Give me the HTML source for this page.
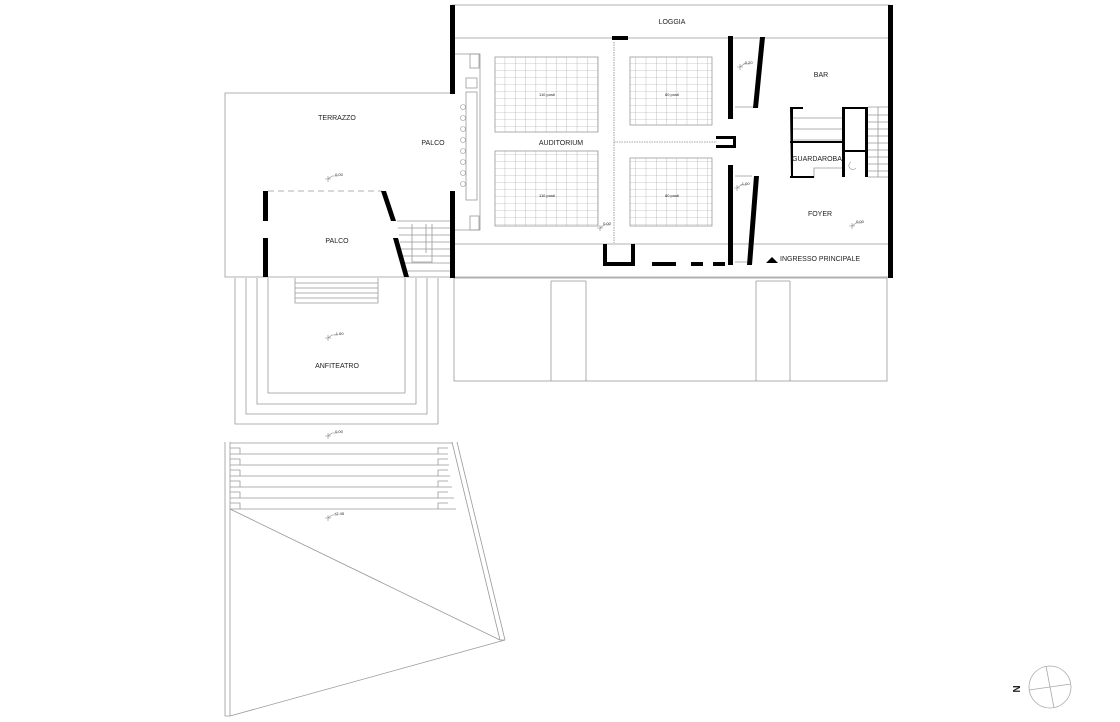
<!DOCTYPE html>
<html><head><meta charset="utf-8"><style>
html,body{margin:0;padding:0;background:#fff;width:1120px;height:722px;overflow:hidden}
svg{display:block}
text{font-family:"Liberation Sans",sans-serif;fill:#222}
</style></head><body>
<svg width="1120" height="722" viewBox="0 0 1120 722" xmlns="http://www.w3.org/2000/svg">
<defs>
<pattern id="g" width="10.3" height="7" patternUnits="userSpaceOnUse"><path d="M0 0H10.3M0 0V7" stroke="#9a9a9a" stroke-width="0.6" fill="none"/></pattern>
<pattern id="g2" width="10.25" height="7" patternUnits="userSpaceOnUse"><path d="M0 0H10.25M0 0V7" stroke="#9a9a9a" stroke-width="0.6" fill="none"/></pattern>
</defs>
<g fill="none" stroke="#999" stroke-width="0.8">
<!-- main building -->
<path d="M452 5H890M452 38H890M452 244H890M452 277H890"/>
<!-- annex -->
<rect x="454" y="278" width="433" height="103"/>
<path d="M551 281V381M586 281V381M756 281V381M790 281V381M551 281H586M756 281H790"/>
<!-- seat grids -->
<rect x="495" y="57" width="103" height="75" fill="url(#g)"/>
<rect x="495" y="151" width="103" height="75" fill="url(#g)"/>
<rect x="630" y="57" width="82" height="68" fill="url(#g2)"/>
<rect x="630" y="158" width="82" height="68" fill="url(#g2)"/>
<!-- stage left -->
<rect x="466" y="92" width="11" height="108"/>
<rect x="466" y="78" width="11" height="10"/>
<rect x="470" y="54" width="9" height="14"/>
<rect x="470" y="216" width="9" height="14"/>
<path d="M455 54H480V230H455"/>
<g stroke-width="0.6"><circle cx="463" cy="107" r="2.5"/><circle cx="463" cy="118" r="2.5"/><circle cx="463" cy="129" r="2.5"/><circle cx="463" cy="140" r="2.5"/><circle cx="463" cy="151" r="2.5"/><circle cx="463" cy="162" r="2.5"/><circle cx="463" cy="173" r="2.5"/><circle cx="463" cy="184" r="2.5"/></g>
<path d="M614 42V243M614 142H717" stroke-dasharray="1.5 1" stroke="#888"/>
<path d="M735 38H758M735 107H756M735 176H752M735 262H750"/>
<!-- guardaroba stairs -->
<path d="M792 118H843M792 129H843M792 140H843M868 107H890M868 177H890M814 177V168H843"/>
<path d="M868 115H890M868 122H890M868 129H890M868 136H890M868 143H890M868 150H890M868 157H890M868 164H890M868 171H890M878 107V177"/>
<path d="M851 162a4 4 0 1 0 5 6" stroke-width="0.6"/>
<!-- left terrazzo -->
<path d="M452 93H225V277H452"/>
<path d="M268 191H382" stroke-dasharray="6 4"/>
<path d="M397 221H452M398 228H452M399 235H452M400 242H452M401 249H452M402 256H452M403 263H452M405 271H452M412 224V262H432V224M426 224V253"/>
<!-- amphitheater -->
<path d="M235 278V424H438V278M246 278V414H427V278M257 278V404H416V278M268 278V393H405V278"/>
<path d="M295 278V303H378V278M295 283H378M295 288H378M295 293H378M295 298H378"/>
<!-- lower -->
<path d="M225 442V716H230V442"/>
<path d="M230 443H452M230 454H448M230 465H449M230 476H450M230 487H452M230 498H454M230 509H456"/>
<path d="M452 442L500 640M457 442L505 640M500 640L505 640"/>
<path d="M230 509L500 640M230 716L505 640"/>
<path d="M230 448H240V454M230 459H240V465M230 470H240V476M230 481H240V487M230 492H240V498M230 503H240V509"/>
<path d="M448 448H438V454M448 459H438V465M448 470H438V476M448 481H438V487M448 492H438V498M448 503H438V509"/>
<!-- level markers -->
<g stroke="#888" stroke-width="0.6">
<path d="M325 179h6M328 176v6M328 179l4-3h6"/>
<path d="M325 338h6M328 335v6M328 338l4-3h6"/>
<path d="M325 436h6M328 433v6M328 436l4-3h6"/>
<path d="M325 518h6M328 515v6M328 518l4-3h6"/>
<path d="M597 228h6M600 225v6M600 228l4-3h6"/>
<path d="M737 67h6M740 64v6M740 67l4-3h6"/>
<path d="M734 188h6M737 185v6M737 188l4-3h6"/>
<path d="M849 226h6M852 223v6M852 226l4-3h6"/>
</g>
<!-- compass -->
<circle cx="1050" cy="687" r="21" stroke="#aaa"/>
<path d="M1046 666L1054 708M1029 690L1071 684" stroke="#aaa"/>
</g>
<!-- black walls -->
<g fill="#000">
<rect x="450" y="5" width="5" height="89"/>
<rect x="450" y="191" width="5" height="87"/>
<rect x="888" y="5" width="5" height="273"/>
<rect x="612" y="36" width="16" height="4"/>
<rect x="728" y="36" width="5" height="83"/>
<polygon points="760,37 765,37 758,108 753,108"/>
<rect x="728" y="165" width="5" height="100"/>
<polygon points="754,176 759,176 752,265 747,265"/>
<path d="M716 136H736V148H716V145H733V139H716Z"/>
<path d="M603 244H607V262H631V244H635V266H603Z"/>
<rect x="652" y="262" width="24" height="4"/><rect x="691" y="262" width="12" height="4"/><rect x="713" y="262" width="12" height="4"/>
<path d="M790 107H803V109H793V177H791Z M790 141H843V143H790Z M790 176H814V178H790Z"/>
<path d="M842 107H868V177H865V109H845V177H842Z"/>
<rect x="842" y="150" width="26" height="2"/>
<rect x="263" y="191" width="5" height="30"/>
<rect x="263" y="238" width="5" height="39"/>
<polygon points="381,191 386,191 396,221 391,221"/>
<polygon points="393,238 398,238 409,277 404,277"/>
<polygon points="766,263 772,257 778,263"/>
</g>
<g font-size="7" text-anchor="middle">
<text x="672" y="24">LOGGIA</text>
<text x="821" y="77">BAR</text>
<text x="561" y="145">AUDITORIUM</text>
<text x="817" y="161">GUARDAROBA</text>
<text x="820" y="216">FOYER</text>
<text x="337" y="120">TERRAZZO</text>
<text x="433" y="145">PALCO</text>
<text x="337" y="243">PALCO</text>
<text x="337" y="368">ANFITEATRO</text>
<text x="816" y="261" text-anchor="start" x2="0" dx="-36">INGRESSO PRINCIPALE</text>
</g>
<g font-size="4" fill="#444" text-anchor="middle">
<text x="547" y="96">110 posti</text><text x="547" y="197">110 posti</text>
<text x="672" y="96">80 posti</text><text x="672" y="197">80 posti</text>
<text x="339" y="176">0.00</text><text x="339" y="335">-1.60</text><text x="339" y="433">0.00</text><text x="339" y="515">+2.45</text>
<text x="607" y="225">0.00</text><text x="748" y="64">-0.20</text><text x="745" y="185">-1.00</text><text x="860" y="223">0.00</text>
</g>
<text x="1016" y="692" font-size="10" font-weight="bold" text-anchor="middle" transform="rotate(90 1016 689)">N</text>
</svg>
</body></html>
